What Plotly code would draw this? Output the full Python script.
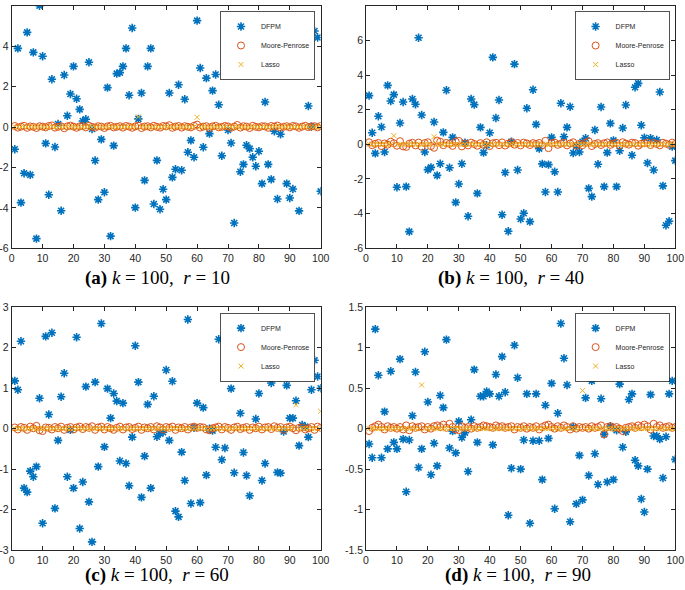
import plotly.graph_objects as go

x = list(range(1, 101))

dfpm_a = [-1.1, 3.89, -3.74, -2.29, 4.68, -2.37, 3.69, -5.52, 6.0, 3.5,
          -0.81, -3.35, 2.36, -0.99, 0.15, -4.14, 2.57, 0.56, 1.63, 3.0,
          1.4, 0.87, 0.3, 0.38, 3.2, -0.1, -1.66, -3.59, -0.61, -3.23,
          1.95, -5.4, -0.92, 2.64, 2.69, 3.0, 3.89, 1.57, 4.9, -3.99,
          0.4, 1.68, -2.64, 3.0, 3.89, -3.81, -1.65, -4.07, -3.08, -3.59,
          1.68, -2.49, -2.09, 2.09, -2.14, 1.37, -1.25, -0.66, -1.5, 5.26,
          2.92, -1.0, 2.42, -0.33, 1.8, 2.6, 1.1, -1.42, 2.67, -0.15,
          -0.79, -4.75, 3.28, -2.21, -1.85, -0.9, -1.07, -1.5, -1.94, -1.2,
          -2.8, 1.24, -1.85, -2.59, -0.21, -3.56, -0.36, 3.02, -2.8, -3.51,
          -3.07, 2.59, -4.15, 3.81, 4.02, 1.04, 0.02, 4.75, 4.43, -3.18]

dfpm_b = [2.81, 0.67, -0.52, 1.62, 1.0, -0.44, 3.4, 2.5, 2.87, -2.48,
          1.23, 2.44, -2.44, -5.04, 2.62, 2.31, 6.15, 1.69, -0.44, -1.46,
          -1.33, 1.29, -1.79, -1.12, 0.69, 3.12, -1.35, 0.4, -3.35, -2.29,
          -1.12, 0.1, -4.15, 2.62, 2.29, -2.83, 0.98, -0.48, -0.05, 0.67,
          5.02, 1.52, 2.56, -4.06, -1.63, -5.02, 0.15, 4.63, -1.48, -4.31,
          -3.98, 2.08, -4.46, 3.15, 1.15, -0.25, -1.13, -2.75, -1.17, 0.4,
          -1.58, -2.75, 2.37, 0.44, 0.98, 2.17, -0.5, -0.1, -0.44, 0.15,
          0.35, -2.54, -3.02, 0.83, -1.15, 2.15, -2.44, -0.48, 1.21, 0.23,
          -2.44, -0.37, 0.94, 2.27, 5.06, -0.63, 3.29, 3.52, 1.1, 0.38,
          -1.08, 0.35, -1.48, 0.25, 3.02, -2.4, -4.67, -4.44, -0.13, -0.94]

dfpm_c = [1.18, 0.96, 2.16, -1.47, -1.57, -1.05, -1.19, -0.94, 0.75, -2.34,
          2.28, 0.35, 2.37, -1.97, -0.29, 0.79, 1.37, -1.19, -0.03, -1.47,
          2.26, -2.47, -1.32, 1.04, -1.81, -2.8, 1.15, -0.94, 2.6, -0.45,
          0.99, 0.26, 0.87, 0.68, -0.8, 0.63, -0.86, -1.41, -0.21, 2.05,
          1.15, -1.7, -0.68, 0.6, -1.47, 0.8, -0.2, -0.12, -0.09, 1.45,
          -0.29, 1.17, -2.04, -2.18, -0.58, -1.28, 2.7, -1.85, 0.02, 0.63,
          -1.83, 0.52, -1.15, 0.0, -0.05, -0.46, 2.21, -0.77, -0.48, 2.57,
          0.99, -1.09, 1.29, 0.38, -0.59, -1.16, -1.66, 1.29, 0.24, 0.87,
          -1.28, -0.86, 1.47, 1.13, 1.55, -1.08, -1.1, -0.07, 1.07, 0.26,
          0.26, 0.69, -0.42, 0.09, 0.05, -0.21, 0.96, 1.69, 1.29, 1.0]

dfpm_d = [-0.19, -0.36, 1.23, 0.66, -0.36, 0.21, -0.25, 0.71, -0.17, -0.25,
          0.86, -0.13, -0.78, -0.14, 0.16, 0.7, -0.48, -0.25, 0.95, 0.33,
          -0.57, -0.18, -0.46, 0.41, 0.26, 1.1, -0.24, -0.03, -0.3, 0.09,
          -0.11, -0.05, -0.53, 0.11, 0.73, -0.17, 0.4, 0.4, 0.46, 0.43,
          -0.2, 0.67, 0.4, 0.89, 0.45, -1.07, -0.49, 1.03, 0.63, -0.5,
          -0.14, 0.43, -1.17, -0.15, 0.43, -0.15, -0.63, 0.29, -0.12, 0.56,
          -0.99, 0.19, 1.3, 0.87, 0.54, -1.15, 0.02, -0.93, -0.33, -0.88,
          0.38, -0.58, 0.59, -0.31, -0.69, 0.37, -0.07, -0.66, 0.03, -0.63,
          -0.02, 0.55, -0.23, -0.04, 0.36, 0.43, -0.39, -0.46, -0.87, -1.03,
          -0.5, 0.42, -0.09, -0.09, -0.13, -0.61, -0.1, 0.43, 0.59, -0.38]

mp_a = [0.05, -0.03, 0.02, 0.06, -0.04, 0.03, 0.01, -0.05, 0.04, 0.02,
        -0.02, 0.05, 0.08, -0.03, 0.01, 0.04, -0.06, 0.03, 0.07, 0.02,
        -0.04, 0.03, 0.05, -0.02, 0.06, 0.01, -0.03, 0.04, 0.02, -0.05,
        0.03, 0.06, -0.02, 0.01, 0.04, -0.03, 0.05, 0.02, -0.04, 0.03,
        0.07, -0.05, 0.02, 0.04, -0.02, 0.06, 0.01, -0.03, 0.05, 0.03,
        0.09, -0.04, 0.02, 0.05, -0.03, 0.04, 0.01, -0.02, 0.06, 0.12,
        -0.03, 0.02, 0.04, -0.05, 0.03, 0.06, -0.02, 0.01, 0.05, 0.03,
        -0.04, 0.02, 0.10, -0.03, 0.04, 0.02, -0.05, 0.06, 0.01, -0.02,
        0.04, 0.03, -0.04, 0.05, 0.02, 0.07, -0.03, 0.01, 0.04, -0.02,
        0.05, 0.03, -0.04, 0.02, 0.06, -0.01, 0.03, 0.04, -0.02, 0.05]

mp_b = [0.12, -0.05, 0.03, 0.08, -0.1, 0.05, -0.02, 0.15, 0.06, -0.08,
        0.18, -0.12, -0.15, 0.04, 0.09, -0.06, 0.1, -0.14, 0.07, 0.12,
        -0.1, -0.2, 0.22, 0.15, -0.05, 0.08, 0.03, -0.09, 0.16, 0.2,
        -0.12, 0.05, -0.06, 0.1, 0.02, -0.08, 0.07, -0.03, 0.12, -0.1,
        0.06, 0.09, -0.05, 0.11, -0.07, 0.04, 0.13, -0.02, 0.08, -0.06,
        0.1, 0.05, -0.04, 0.07, 0.02, 0.08, -0.05, 0.2, -0.22, 0.06,
        0.1, -0.03, 0.04, 0.09, -0.06, 0.05, 0.12, -0.08, 0.03, -0.05,
        0.1, 0.18, -0.1, 0.02, 0.07, -0.04, 0.06, 0.11, -0.03, 0.05,
        0.09, -0.06, 0.12, 0.04, -0.02, 0.1, 0.07, -0.08, 0.03, 0.06,
        0.11, -0.04, 0.08, 0.02, -0.06, 0.09, 0.04, -0.03, 0.1, 0.02]

mp_c = [0.03, -0.02, 0.04, 0.02, -0.03, 0.05, 0.01, 0.07, -0.04, -0.06,
        0.03, 0.02, -0.02, 0.04, 0.01, 0.05, -0.03, 0.02, 0.04, -0.02,
        0.03, 0.05, -0.01, 0.04, 0.02, 0.06, -0.03, 0.03, 0.05, -0.02,
        0.04, 0.01, -0.03, 0.02, 0.05, -0.02, 0.03, 0.04, -0.01, 0.02,
        0.05, -0.03, 0.03, 0.01, 0.04, -0.02, 0.06, 0.03, -0.02, 0.04,
        0.02, 0.05, -0.03, 0.03, 0.01, 0.04, -0.02, 0.03, 0.05, 0.02,
        0.04, 0.03, -0.02, -0.04, 0.01, 0.03, 0.05, -0.02, 0.04, 0.02,
        -0.03, 0.03, 0.05, -0.01, 0.02, 0.04, -0.03, 0.03, 0.01, 0.05,
        -0.02, 0.03, 0.04, -0.01, 0.06, 0.02, 0.04, -0.03, 0.03, 0.05,
        0.01, -0.04, 0.02, 0.03, -0.02, 0.01, 0.04, -0.03, 0.05, 0.02]

mp_d = [-0.03, 0.01, 0.03, 0.05, 0.02, -0.01, 0.03, 0.01, 0.02, 0.0,
        0.02, -0.01, 0.04, -0.02, 0.03, 0.01, 0.02, 0.03, -0.01, 0.02,
        0.0, 0.03, 0.04, 0.02, 0.05, 0.01, 0.06, 0.02, -0.01, -0.02,
        0.03, 0.01, 0.02, 0.0, 0.03, 0.01, 0.02, 0.04, 0.03, 0.02,
        0.01, 0.04, 0.02, 0.03, 0.01, 0.02, 0.03, -0.01, 0.02, 0.01,
        0.03, 0.0, 0.02, 0.01, 0.03, -0.01, 0.02, 0.04, 0.05, 0.02,
        0.0, 0.03, 0.01, 0.04, 0.02, -0.01, 0.03, 0.0, 0.02, 0.01,
        0.02, 0.0, 0.03, 0.01, 0.02, 0.04, -0.07, 0.02, 0.03, 0.01,
        0.02, 0.0, -0.03, 0.01, 0.02, 0.03, 0.01, 0.04, 0.02, 0.05,
        0.03, -0.01, 0.06, 0.02, 0.04, 0.01, 0.02, 0.03, 0.01, 0.02]

lasso_a = [0.0, 0.01, 0.0, 0.0, 0.01, 0.0, 0.0, 0.0, 0.01, 0.0,
           0.0, 0.0, 0.01, 0.0, 0.0, 0.0, 0.0, 0.01, 0.0, 0.0,
           0.0, 0.0, 0.0, 0.0, 0.01, 0.0, 0.0, 0.0, 0.0, 0.0,
           0.0, 0.01, 0.0, 0.0, 0.0, 0.0, 0.01, 0.0, 0.0, 0.0,
           0.5, 0.0, 0.0, 0.0, 0.0, 0.0, 0.0, 0.0, 0.0, 0.0,
           0.0, 0.0, 0.0, 0.01, 0.0, 0.0, 0.0, 0.0, 0.0, 0.48,
           0.0, 0.0, 0.0, 0.0, 0.0, 0.0, 0.0, 0.0, 0.01, 0.0,
           0.0, 0.0, 0.0, 0.0, 0.0, 0.0, 0.0, 0.0, 0.0, 0.0,
           0.0, 0.0, 0.0, 0.0, 0.0, 0.01, 0.0, 0.0, 0.0, 0.0,
           0.0, 0.0, 0.0, 0.0, 0.0, 0.0, 0.0, 0.0, 0.0, 0.0]

lasso_b = [0.0, 0.0, 0.0, 0.0, 0.0, 0.0, 0.0, 0.0, 0.5, 0.0,
           0.0, 0.0, 0.0, 0.0, 0.0, 0.0, 0.0, 0.0, 0.0, 0.0,
           0.0, 0.44, 0.0, 0.0, 0.0, 0.0, 0.0, 0.0, 0.0, 0.0,
           0.0, 0.0, 0.0, 0.0, 0.0, 0.0, 0.0, 0.0, 0.0, 0.0,
           0.0, 0.0, 0.0, 0.0, 0.0, 0.0, 0.0, 0.0, 0.0, 0.0,
           0.0, 0.0, 0.0, 0.0, 0.0, 0.0, 0.0, 0.0, 0.0, 0.0,
           0.0, 0.0, 0.0, 0.0, 0.0, 0.0, 0.0, 0.0, 0.0, 0.0,
           0.0, 0.0, 0.0, 0.0, 0.0, 0.0, 0.0, 0.0, 0.0, 0.0,
           0.0, 0.0, 0.0, 0.0, 0.0, 0.0, 0.0, 0.0, 0.0, 0.0,
           0.0, 0.0, 0.0, 0.0, 0.0, 0.0, 0.0, 0.0, 0.0, 0.0]

lasso_c = [0.0, 0.0, 0.0, 0.0, 0.0, 0.0, 0.0, 0.0, 0.0, 0.0,
           0.0, 0.0, 0.0, 0.0, 0.0, 0.0, 0.0, 0.0, 0.0, 0.0,
           0.0, 0.0, 0.0, 0.0, 0.0, 0.0, 0.0, 0.0, 0.0, 0.0,
           0.0, 0.0, 0.0, 0.0, 0.0, 0.0, 0.0, 0.0, 0.0, 0.0,
           0.0, 0.0, 0.0, 0.0, 0.0, 0.0, 0.0, 0.0, 0.0, 0.0,
           0.0, 0.0, 0.0, 0.0, 0.0, 0.0, 0.0, 0.0, 0.0, 0.0,
           0.0, 0.0, 0.0, 0.0, 0.0, 0.0, 0.0, 0.0, 0.0, 0.0,
           0.0, 0.0, 0.0, 0.0, 0.0, 0.0, 0.0, 0.0, 0.0, 0.0,
           0.0, 0.0, 0.0, 0.0, 0.0, 0.0, 0.0, 0.0, 0.0, 0.0,
           0.0, 0.59, 0.0, 0.0, 0.0, 0.0, 0.0, 0.0, 0.0, 0.43]

lasso_d = [0.0, 0.0, 0.0, 0.0, 0.0, 0.0, 0.0, 0.0, 0.0, 0.0,
           0.0, 0.0, 0.0, 0.0, 0.0, 0.0, 0.0, 0.54, 0.0, 0.0,
           0.0, 0.0, 0.0, 0.0, 0.0, 0.0, 0.0, 0.0, 0.0, 0.0,
           0.0, 0.0, 0.0, 0.0, 0.0, 0.0, 0.0, 0.0, 0.0, 0.0,
           0.0, 0.0, 0.0, 0.0, 0.0, 0.0, 0.0, 0.0, 0.0, 0.0,
           0.0, 0.0, 0.0, 0.0, 0.0, 0.0, 0.0, 0.0, 0.0, 0.0,
           0.0, 0.0, 0.0, 0.0, 0.0, 0.0, 0.0, 0.0, 0.0, 0.47,
           0.0, 0.0, 0.0, 0.0, 0.0, 0.0, 0.0, 0.0, 0.0, 0.0,
           0.0, 0.0, 0.0, 0.0, 0.0, 0.0, 0.0, 0.0, 0.0, 0.0,
           0.0, 0.0, 0.0, 0.0, 0.0, 0.0, 0.0, 0.0, 0.0, 0.0]

captions = ["<b>(a)</b> <i>k</i> = 100,  <i>r</i> = 10",
            "<b>(b)</b> <i>k</i> = 100,  <i>r</i> = 40",
            "<b>(c)</b> <i>k</i> = 100,  <i>r</i> = 60",
            "<b>(d)</b> <i>k</i> = 100,  <i>r</i> = 90"]
y_ranges = [[-6, 6], [-6, 8], [-3, 3], [-1.5, 1.5]]
y_ticks = [[-6, -4, -2, 0, 2, 4, 6], [-6, -4, -2, 0, 2, 4, 6, 8],
           [-3, -2, -1, 0, 1, 2, 3], [-1.5, -1, -0.5, 0, 0.5, 1, 1.5]]
y_ticklabels = [["-6", "-4", "-2", "0", "2", "4", "6"],
                ["-6", "-4", "-2", "0", "2", "4", "6", "8"],
                ["-3", "-2", "-1", "0", "1", "2", "3"],
                ["-1.5", "-1", "-0.5", "0", "0.5", "1", "1.5"]]
x_ticks = [0, 10, 20, 30, 40, 50, 60, 70, 80, 90, 100]

W, H = 685, 590
# plot-area pixel boxes (left, right, top, bottom)
boxes = [(11.7, 320.7, 5.7, 248.3), (366, 675.3, 5.7, 248.3),
         (11.7, 320.7, 307.3, 550), (366, 675.3, 307.3, 550)]
cap_pos = [(157, 278), (511, 278), (157, 575), (518, 575)]

C_BLUE = "#0072BD"
C_ORANGE = "#D95319"
C_YELLOW = "#EDB120"
AX = "#262626"

fig = go.Figure()
series = [(dfpm_a, mp_a, lasso_a), (dfpm_b, mp_b, lasso_b),
          (dfpm_c, mp_c, lasso_c), (dfpm_d, mp_d, lasso_d)]

for k, (d, m, l) in enumerate(series):
    suf = "" if k == 0 else str(k + 1)
    leg = "legend" if k == 0 else "legend" + str(k + 1)
    common = dict(x=x, xaxis="x" + suf, yaxis="y" + suf, mode="markers",
                  legend=leg)
    fig.add_trace(go.Scatter(y=d, name="DFPM",
                             marker=dict(symbol="asterisk-open", size=7, color=C_BLUE,
                                         line=dict(color=C_BLUE, width=1.6)), **common))
    fig.add_trace(go.Scatter(y=m, name="Moore-Penrose",
                             marker=dict(symbol="circle-open", size=7, color=C_ORANGE,
                                         line=dict(color=C_ORANGE, width=1)), **common))
    fig.add_trace(go.Scatter(y=l, name="Lasso",
                             marker=dict(symbol="x-thin-open", size=5, color=C_YELLOW,
                                         line=dict(color=C_YELLOW, width=1)), **common))

layout = dict(width=W, height=H, margin=dict(l=0, r=0, t=0, b=0, autoexpand=False),
              paper_bgcolor="white", plot_bgcolor="white", showlegend=True,
              font=dict(family="Liberation Sans, Arial", color=AX))

ann = []
for k in range(4):
    suf = "" if k == 0 else str(k + 1)
    l, r, t, b = boxes[k]
    axcommon = dict(showline=True, linecolor=AX, linewidth=0.8, mirror="ticks",
                    ticks="inside", ticklen=4, tickwidth=0.8, tickcolor=AX,
                    showgrid=False, zeroline=False, automargin=False,
                    tickfont=dict(size=10.5, color=AX, family="Liberation Sans, Arial"))
    layout["xaxis" + suf] = dict(domain=[l / W, r / W], anchor="y" + suf,
                                  range=[0, 100], tickvals=x_ticks, **axcommon)
    layout["yaxis" + suf] = dict(domain=[1 - b / H, 1 - t / H], anchor="x" + suf,
                                  range=y_ranges[k], tickvals=y_ticks[k],
                                  ticktext=y_ticklabels[k], **axcommon)
    leg = "legend" if k == 0 else "legend" + str(k + 1)
    layout[leg] = dict(x=(r - 5.5) / W, xanchor="right", y=1 - (t + 5.5) / H,
                       yanchor="top", bgcolor="white", bordercolor=AX, borderwidth=0.8,
                       font=dict(size=7, family="Liberation Sans, Arial", color=AX),
                       itemwidth=30, tracegroupgap=0)
    cx, cy = cap_pos[k]
    ann.append(dict(text=captions[k], x=cx / W, y=1 - cy / H, xref="paper", yref="paper",
                    showarrow=False, xanchor="center", yanchor="middle",
                    font=dict(size=19, family="Liberation Serif, Times New Roman", color="black")))
layout["annotations"] = ann
fig.update_layout(**layout)
fig.write_html("out.html", config={"displayModeBar": False},
               post_script="document.body.style.margin='0';document.body.style.overflow='hidden';")
